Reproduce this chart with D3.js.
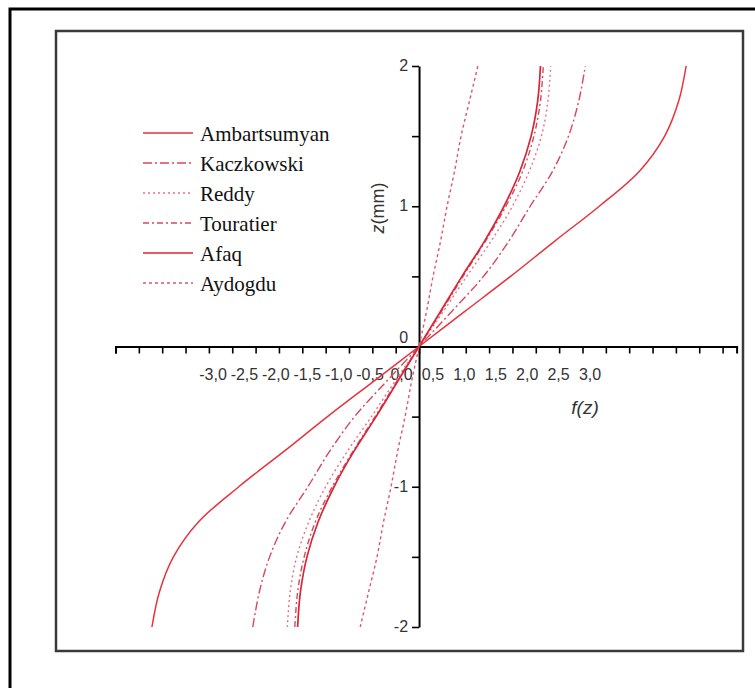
<!DOCTYPE html>
<html>
<head>
<meta charset="utf-8">
<script src="https://cdn.jsdelivr.net/npm/d3@7"></script>
<style>
  body { margin: 0; background: #fff; }
  svg { display: block; }
</style>
</head>
<body>
<svg id="chart" width="755" height="688"></svg>
<script>
// depth coordinate z (mm) shared by every curve
var zValues = [-2, -1.75, -1.5, -1.25, -1, -0.75, -0.5, -0.25, 0, 0.25, 0.5, 0.75, 1, 1.25, 1.5, 1.75, 2];

// shear functions f(z)
var ambartsumyan = [-2.86, -2.78, -2.63, -2.36, -1.93, -1.45, -0.98, -0.49, 0, 0.49, 0.98, 1.45, 1.93, 2.36, 2.63, 2.78, 2.86];
var kaczkowski = [-1.78, -1.71, -1.60, -1.43, -1.19, -0.96, -0.69, -0.35, 0, 0.35, 0.69, 0.96, 1.19, 1.43, 1.60, 1.71, 1.78];
var reddy = [-1.41, -1.38, -1.31, -1.18, -1.00, -0.77, -0.51, -0.26, 0, 0.26, 0.51, 0.77, 1.00, 1.18, 1.31, 1.38, 1.41];
var touratier = [-1.33, -1.30, -1.23, -1.11, -0.93, -0.71, -0.47, -0.24, 0, 0.24, 0.47, 0.71, 0.93, 1.11, 1.23, 1.30, 1.33];
var afaq = [-1.30, -1.27, -1.20, -1.08, -0.91, -0.70, -0.46, -0.23, 0, 0.23, 0.46, 0.70, 0.91, 1.08, 1.20, 1.27, 1.30];
var aydogdu = [-0.63, -0.54, -0.45, -0.38, -0.30, -0.23, -0.15, -0.08, 0, 0.08, 0.15, 0.23, 0.30, 0.38, 0.45, 0.54, 0.63];

var seriesNames = ["Ambartsumyan", "Kaczkowski", "Reddy", "Touratier", "Afaq", "Aydogdu"];
var seriesValues = [ambartsumyan, kaczkowski, reddy, touratier, afaq, aydogdu];

// tick labels as printed under the x axis
var xTickLabels = ["-3,0", "-2,5", "-2,0", "-1,5", "-1,0", "-0,5", "0,0", "0,5", "1,0", "1,5", "2,0", "2,5", "3,0"];
var yTickLabels = [2, 1, 0, -1, -2];

var styles = [
  {color: "#e8323e", width: 1.5, dash: null},
  {color: "#d8475b", width: 1.4, dash: "9,3,2,3"},
  {color: "#e77280", width: 1.4, dash: "2,3"},
  {color: "#d54a5f", width: 1.4, dash: "6,3,2,3"},
  {color: "#d92535", width: 1.7, dash: null},
  {color: "#de5767", width: 1.4, dash: "3,3"}
];

var svg = d3.select("#chart");

// outer page frame and inner plot frame
svg.append("path").attr("d", "M10,700 L10,9 L760,9")
  .attr("fill", "none").attr("stroke", "#000").attr("stroke-width", 3);
svg.append("rect").attr("x", 56).attr("y", 31).attr("width", 687).attr("height", 620)
  .attr("fill", "none").attr("stroke", "#3a3a3a").attr("stroke-width", 2.5);

var x = d3.scaleLinear().domain([-3.25, 3.4]).range([115.5, 736.6]);
var y = d3.scaleLinear().domain([-2, 2]).range([627, 66]);

// x axis through z = 0, unlabelled ticks
var xTicks = d3.range(-13, 14).map(function(i) { return i * 0.25; });
var xAxis = svg.append("g").attr("transform", "translate(0," + y(0) + ")")
  .call(d3.axisBottom(x).tickValues(xTicks).tickSize(7).tickFormat("").tickSizeOuter(7));
xAxis.select(".domain").attr("stroke-width", 2);
xAxis.selectAll(".tick line").attr("stroke-width", 1.6);

// y axis through f = 0
var yAxis = svg.append("g").attr("transform", "translate(" + x(0) + ",0)")
  .call(d3.axisLeft(y).tickValues([-2, -1.5, -1, -0.5, 0.5, 1, 1.5, 2]).tickSize(7).tickFormat("").tickSizeOuter(0));
yAxis.select(".domain").attr("stroke-width", 2);
yAxis.selectAll(".tick line").attr("stroke-width", 1.6);

var labelFont = "'Liberation Sans Narrow', 'Arial Narrow', Arial, sans-serif";

svg.append("g").selectAll("text").data(yTickLabels).join("text")
  .attr("x", x(0) - 11).attr("y", function(d) { return d === 0 ? y(0) - 4 : y(d) + 5; })
  .attr("text-anchor", "end").attr("font-family", labelFont).attr("font-size", 16)
  .attr("fill", "#333").text(function(d) { return d; });

var labelPos = d3.scalePoint().domain(xTickLabels).range([213, 590]);
svg.append("g").selectAll("text").data(xTickLabels).join("text")
  .attr("x", function(d) { return labelPos(d); }).attr("y", y(0) + 33)
  .attr("text-anchor", "middle").attr("font-family", labelFont).attr("font-size", 16)
  .attr("fill", "#333").text(function(d) { return d; });

// axis titles
svg.append("text").attr("x", 585).attr("y", 414).attr("text-anchor", "middle")
  .attr("font-family", "Arial, sans-serif").attr("font-style", "italic").attr("font-size", 19)
  .attr("fill", "#333").text("f(z)");
svg.append("text").attr("transform", "translate(384,208) rotate(-90)").attr("text-anchor", "middle")
  .attr("font-family", "Arial, sans-serif").attr("font-size", 18).attr("fill", "#333")
  .call(function(t) {
    t.append("tspan").attr("font-style", "italic").text("z");
    t.append("tspan").text("(mm)");
  });

// curves: x = f(z), y = z
var line = d3.line()
  .x(function(d) { return x(d[0]); })
  .y(function(d) { return y(d[1]); })
  .curve(d3.curveCatmullRom.alpha(0.5));

svg.append("g").selectAll("path").data(seriesValues).join("path")
  .attr("d", function(vals) { return line(vals.map(function(v, i) { return [v, zValues[i]]; })); })
  .attr("fill", "none")
  .attr("stroke", function(d, i) { return styles[i].color; })
  .attr("stroke-width", function(d, i) { return styles[i].width; })
  .attr("stroke-dasharray", function(d, i) { return styles[i].dash; });

// legend
var legend = svg.append("g").selectAll("g").data(seriesNames).join("g")
  .attr("transform", function(d, i) { return "translate(143," + (134 + i * 30) + ")"; });
legend.append("line").attr("x1", 0).attr("x2", 50).attr("y1", -1).attr("y2", -1)
  .attr("stroke", function(d, i) { return styles[i].color; })
  .attr("stroke-width", function(d, i) { return styles[i].width; })
  .attr("stroke-dasharray", function(d, i) { return styles[i].dash; });
legend.append("text").attr("x", 57).attr("y", 7)
  .attr("font-family", "'Liberation Serif', 'Times New Roman', serif").attr("font-size", 21)
  .attr("fill", "#111").text(function(d) { return d; });
</script>
</body>
</html>
